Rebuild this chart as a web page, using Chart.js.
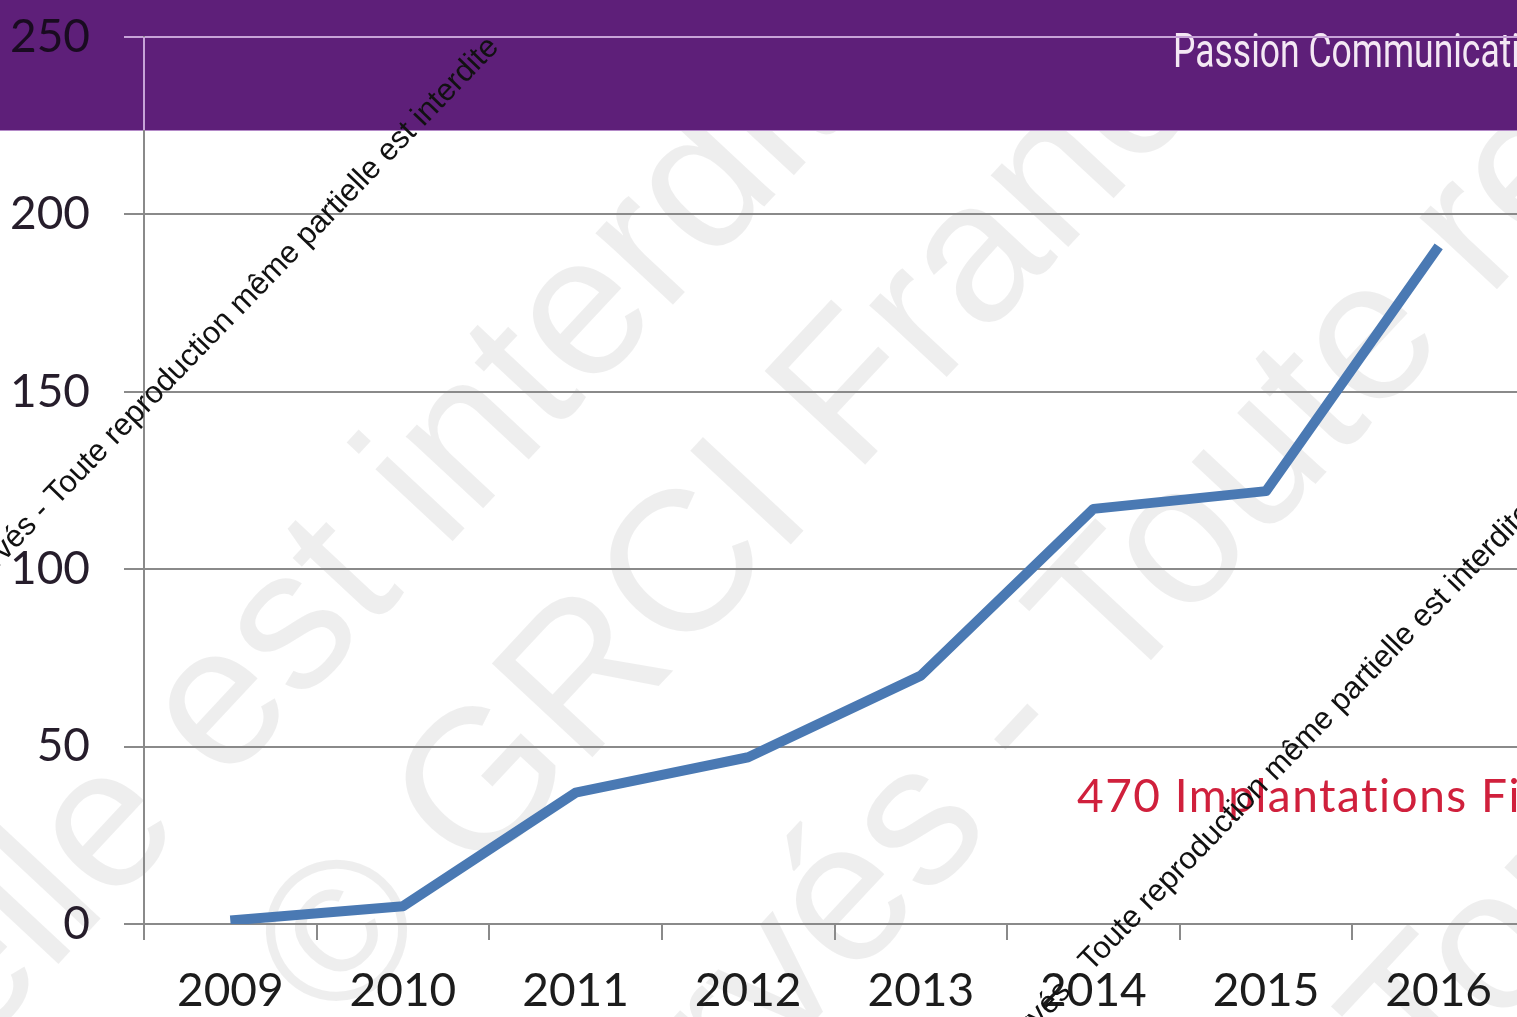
<!DOCTYPE html>
<html>
<head>
<meta charset="utf-8">
<script src="https://cdn.jsdelivr.net/npm/chart.js@4/dist/chart.umd.min.js"></script>
<style>
  html, body { margin: 0; padding: 0; overflow: hidden; background: #fff; }
  #wrap { position: relative; width: 1545px; height: 1017px; }
</style>
</head>
<body>
<div id="wrap"><canvas id="implantations-canvas"></canvas></div>
<script>
'use strict';

// implantations par année
const years = ['2009', '2010', '2011', '2012', '2013', '2014', '2015', '2016'];
const implantations = [1, 5, 37, 47, 70, 117, 122, 191];
const yMin = 0;
const yMax = 250;
const yStep = 50;

const headerTitle = 'Passion Communication';
const noteText = '470 Implantations Fi';
const copyright = '© GRCI France - Tous droits réservés - Toute reproduction même partielle est interdite';

const BANNER_H = 131;
const PURPLE = '#5e1f79';
const LAVENDER = '#c7a3d8';
const GRID = '#8a8a8a';

// grandes lignes du filigrane : mot repère + son centre
const bigMarks = [
    { word: 'est', cx: 262, cy: 640 },
    { word: 'GRCI', cx: 593, cy: 651 },
    { word: 'Toute', cx: 1230, cy: 470 },
    { word: 'Tous', cx: 1520, cy: 900 }
];
// petites lignes noires : fin du texte
const smallMarks = [
    { ex: 500, ey: 48 },
    { ex: 1534, ey: 514 }
];

function drawBigWatermark(chart) {
    const ctx = chart.ctx;
    const size = 200;
    const ang = -47 * Math.PI / 180;
    ctx.save();
    ctx.beginPath();
    ctx.rect(0, BANNER_H, chart.width, chart.height - BANNER_H);
    ctx.clip();
    ctx.font = size + 'px "Liberation Sans"';
    ctx.fillStyle = 'rgba(0, 0, 0, 0.068)';
    ctx.textBaseline = 'alphabetic';
    ctx.textAlign = 'left';
    const line = copyright + ' - ' + copyright;
    for (const m of bigMarks) {
        const idx = line.indexOf(m.word);
        const before = ctx.measureText(line.slice(0, idx)).width;
        const w = ctx.measureText(m.word).width;
        ctx.save();
        ctx.translate(m.cx, m.cy);
        ctx.rotate(ang);
        ctx.fillText(line, -(before + w / 2), size * 0.36);
        ctx.restore();
    }
    ctx.restore();
}

function drawSmallWatermark(ctx) {
    const ang = -46 * Math.PI / 180;
    ctx.save();
    ctx.font = '31px "Liberation Sans"';
    ctx.fillStyle = '#111';
    ctx.textAlign = 'right';
    ctx.textBaseline = 'alphabetic';
    for (const m of smallMarks) {
        ctx.save();
        ctx.translate(m.ex, m.ey);
        ctx.rotate(ang);
        ctx.fillText(copyright, 0, 0);
        ctx.restore();
    }
    ctx.restore();
}

const decorations = {
    id: 'decorations',
    beforeDraw(chart) {
        const ctx = chart.ctx;
        ctx.save();
        ctx.fillStyle = '#fff';
        ctx.fillRect(0, 0, chart.width, chart.height);
        ctx.fillStyle = PURPLE;
        ctx.fillRect(0, 0, chart.width, BANNER_H);
        ctx.fillStyle = '#b48ac8';
        ctx.fillRect(0, BANNER_H - 1, chart.width, 1);
        ctx.restore();

        drawBigWatermark(chart);

        // titre du bandeau, police étroite
        ctx.save();
        ctx.font = '48px Roboto';
        const w = ctx.measureText('Passion Communicati').width;
        const sx = 347 / w;
        ctx.translate(1173, 67);
        ctx.scale(sx, 1);
        ctx.fillStyle = '#f4e8f4';
        ctx.textBaseline = 'alphabetic';
        ctx.fillText(headerTitle, 0, 0);
        ctx.restore();
    },
    afterDraw(chart) {
        const ctx = chart.ctx;
        const area = chart.chartArea;
        // axe vertical éclairci dans le bandeau
        ctx.save();
        ctx.strokeStyle = LAVENDER;
        ctx.lineWidth = 2;
        ctx.beginPath();
        ctx.moveTo(area.left, area.top);
        ctx.lineTo(area.left, BANNER_H - 1);
        ctx.stroke();
        ctx.restore();

        // note en rouge
        ctx.save();
        ctx.font = '46px Lato';
        ctx.letterSpacing = '1.5px';
        ctx.fillStyle = '#d0203c';
        ctx.textBaseline = 'alphabetic';
        ctx.fillText(noteText, 1077, 812);
        ctx.restore();

        drawSmallWatermark(ctx);
    }
};

function createChart() {
    const ctx = document.getElementById('implantations-canvas');
    const tickFont = { family: 'Lato', size: 46 };

    new Chart(ctx, {
        type: 'line',
        data: {
            labels: years,
            datasets: [{
                data: implantations,
                borderColor: '#4a79b3',
                borderWidth: 10,
                borderCapStyle: 'butt',
                borderJoinStyle: 'round',
                pointRadius: 0,
                tension: 0,
                fill: false
            }]
        },
        options: {
            responsive: true,
            maintainAspectRatio: false,
            animation: false,
            devicePixelRatio: 1,
            layout: { padding: { top: 37, right: 20, left: 0, bottom: 0 } },
            plugins: {
                legend: { display: false },
                tooltip: { enabled: false }
            },
            scales: {
                x: {
                    offset: true,
                    grid: {
                        offset: true,
                        drawOnChartArea: false,
                        drawTicks: true,
                        tickLength: 16,
                        color: GRID,
                        lineWidth: 2
                    },
                    border: { display: true, color: GRID, width: 2 },
                    ticks: { font: tickFont, color: '#1c1c1c', padding: 24 },
                    afterFit: s => { s.height = 93; }
                },
                y: {
                    min: yMin,
                    max: yMax,
                    ticks: { stepSize: yStep, font: tickFont, color: 'rgba(20, 10, 25, 0.92)', padding: 34 },
                    grid: {
                        color: c => (c.tick && c.tick.value === yMax ? LAVENDER : GRID),
                        lineWidth: 2,
                        tickLength: 20,
                        drawTicks: true
                    },
                    border: { display: true, color: GRID, width: 2 },
                    afterFit: s => {
                        s.width = 144;
                        s.paddingTop = 0;
                        s.paddingBottom = 0;
                    }
                }
            }
        },
        plugins: [decorations]
    });
}

createChart();
</script>
</body>
</html>
